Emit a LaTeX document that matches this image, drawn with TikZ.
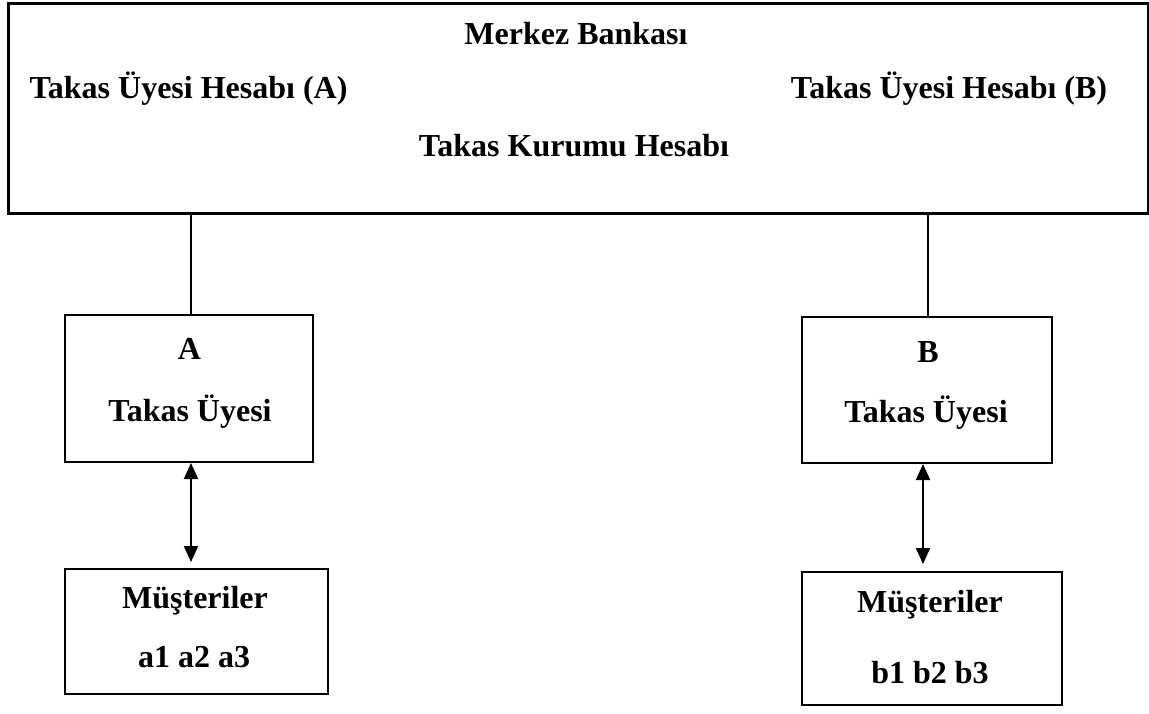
\documentclass[tikz,border=0pt]{standalone}
\usepackage{fontspec}
\setmainfont{Liberation Serif}
\usetikzlibrary{arrows.meta}
\tikzset{
  bigbox/.style={draw, line width=3pt, inner sep=0pt},
  smallbox/.style={draw, line width=2pt, inner sep=0pt},
  lbl/.style={inner sep=0pt, anchor=base, font=\fontsize{32}{38}\selectfont\bfseries},
  link/.style={line width=1.5pt},
  dbl/.style={line width=2pt, {Triangle[length=16pt,width=14pt]}-{Triangle[length=16pt,width=14pt]}}
}
\begin{document}
\begin{tikzpicture}[x=1pt,y=-1pt]
\useasboundingbox (0,0) rectangle (1149,713);
% boxes
\node[bigbox, minimum width=1140pt, minimum height=210pt] (mb) at (578,108) {};
\node[smallbox, minimum width=248pt, minimum height=147pt] (ta) at (189,388.5) {};
\node[smallbox, minimum width=263pt, minimum height=125pt] (ma) at (196.5,631.5) {};
\node[smallbox, minimum width=250pt, minimum height=146pt] (tb) at (927,390) {};
\node[smallbox, minimum width=260pt, minimum height=133pt] (mbb) at (932,638.5) {};
% texts
\node[lbl] (t1) at (576,44) {Merkez Bankası};
\node[lbl] (t2) at (188.5,98) {Takas Üyesi Hesabı (A)};
\node[lbl] (t3) at (949,98) {Takas Üyesi Hesabı (B)};
\node[lbl] (t4) at (574,156) {Takas Kurumu Hesabı};
\node[lbl] (t5) at (189.5,359) {A};
\node[lbl] (t6) at (190,421) {Takas Üyesi};
\node[lbl] (t7) at (195,608) {Müşteriler};
\node[lbl] (t8) at (194,667) {a1 a2 a3};
\node[lbl] (t9) at (928,362) {B};
\node[lbl] (t10) at (926,422) {Takas Üyesi};
\node[lbl] (t11) at (930,612) {Müşteriler};
\node[lbl] (t12) at (930,683) {b1 b2 b3};
% connectors
\coordinate (la) at (191,0);
\coordinate (lb) at (928,0);
\coordinate (aa) at (191,0);
\coordinate (ab) at (923,0);
\draw[link] (la |- mb.south) -- (la |- ta.north);
\draw[link] (lb |- mb.south) -- (lb |- tb.north);
\draw[dbl] (aa |- ta.south) -- ([yshift=6pt]aa |- ma.north);
\draw[dbl] (ab |- tb.south) -- ([yshift=7pt]ab |- mbb.north);
\end{tikzpicture}
\end{document}
